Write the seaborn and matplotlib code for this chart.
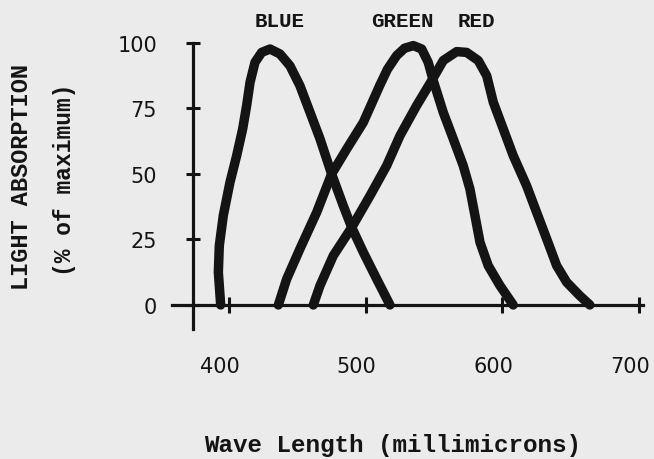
import numpy as np
import pandas as pd
import seaborn as sns
import matplotlib.pyplot as plt
from matplotlib.transforms import ScaledTranslation

# Absorption curves
# wavelength in millimicrons, absorption in % of maximum
blue_wl = [393.9, 392.2, 392.9, 395.8, 400.7, 405.6, 410.0, 412.9, 415.4, 419.0,
           423.9, 430.0, 437.3, 444.6, 451.9, 459.3, 466.6, 475.1, 483.6, 489.8,
           498.3, 508.1, 517.8]
blue_abs = [0, 12.5, 22.6, 34.1, 46.8, 57.0, 67.2, 76.1, 85.0, 92.6,
            96.4, 97.7, 95.8, 91.3, 83.7, 73.5, 63.4, 50.0, 37.9, 29.6,
            20.1, 9.9, 0]

green_wl = [436.1, 442.2, 451.9, 464.2, 475.1, 486.1, 498.3, 510.5, 516.0, 522.7,
            528.5, 534.9, 541.0, 545.8, 549.5, 556.8, 564.1, 571.4, 576.3, 580.0,
            583.7, 589.7, 598.3, 608.0]
green_abs = [0, 9.9, 21.4, 35.4, 50.0, 59.5, 69.7, 84.0, 90.0, 95.2,
             98.0, 99.0, 97.7, 92.6, 85.6, 73.5, 63.4, 53.2, 44.3, 34.1,
             23.9, 15.0, 7.4, 0]

red_wl = [461.7, 466.6, 476.3, 489.8, 503.2, 515.4, 525.1, 537.3, 548.3, 556.8,
          566.6, 573.9, 582.4, 588.6, 593.4, 600.7, 608.0, 617.8, 625.1, 632.5,
          639.8, 647.1, 656.8, 664.1]
red_abs = [0, 7.4, 18.8, 29.6, 41.7, 53.2, 64.6, 76.1, 85.6, 93.3,
           96.7, 96.4, 93.3, 87.5, 77.4, 67.2, 57.0, 45.5, 35.4, 25.2,
           15.0, 8.7, 3.5, 0]

curve_names = ["BLUE", "GREEN", "RED"]
curve_label_x = [437, 527, 581]
x_ticks = [400, 500, 600, 700]
y_ticks = [0, 25, 50, 75, 100]

df = pd.concat([
    pd.DataFrame({"wl": blue_wl, "absorption": blue_abs, "cone": "BLUE"}),
    pd.DataFrame({"wl": green_wl, "absorption": green_abs, "cone": "GREEN"}),
    pd.DataFrame({"wl": red_wl, "absorption": red_abs, "cone": "RED"}),
])

paper = "#ebebeb"
ink = "#141414"
mono = ["Liberation Mono", "DejaVu Sans Mono"]

sns.set_theme(style="white")
plt.rcParams["font.family"] = ["DejaVu Sans"]

fig = plt.figure(figsize=(6.54, 4.6), dpi=100, facecolor=paper)
ax = fig.add_axes([0.2457, 0.2665, 0.7417, 0.6607])
ax.set_facecolor(paper)

sns.lineplot(data=df, x="wl", y="absorption", hue="cone",
             palette={n: ink for n in curve_names}, sort=False,
             estimator=None, legend=False, linewidth=6.8, ax=ax,
             solid_joinstyle="round", solid_capstyle="round")

ax.set_xlim(350, 705)
ax.set_ylim(-12, 104)

# hand drawn axes crossing each other
for side in ["top", "right"]:
    ax.spines[side].set_visible(False)
ax.spines["left"].set_position(("data", 373.7))
ax.spines["left"].set_bounds(-9, 100)
ax.spines["bottom"].set_position(("data", 0))
ax.spines["bottom"].set_bounds(358.3, 702.9)
for side in ["left", "bottom"]:
    ax.spines[side].set_linewidth(2.3)
    ax.spines[side].set_color(ink)

ax.set_xticks(x_ticks)
ax.set_yticks(y_ticks)
ax.tick_params(axis="y", left=True, direction="inout", length=10, width=2.2,
               pad=21, labelsize=15, colors=ink)
ax.tick_params(axis="x", bottom=True, direction="inout", length=12, width=2.2,
               pad=31, labelsize=15, colors=ink)
ax.set_xlabel("")
ax.set_ylabel("")

shift = ScaledTranslation(-9 / 100, 0, fig.dpi_scale_trans)
for lbl in ax.get_xticklabels():
    lbl.set_transform(lbl.get_transform() + shift)

for name, x in zip(curve_names, curve_label_x):
    ax.text(x, 108.4, name, ha="center", va="center", fontsize=15,
            fontweight="bold", family=mono, color=ink, clip_on=False)

fig.text(22 / 654, 1 - 177 / 460, "LIGHT ABSORPTION", rotation=90,
         ha="center", va="center", fontsize=17, fontweight="bold",
         family=mono, color=ink)
fig.text(65 / 654, 1 - 180 / 460, "(% of maximum)", rotation=90,
         ha="center", va="center", fontsize=16.5, fontweight="bold",
         family=mono, color=ink)
fig.text(393 / 654, 1 - 452 / 460, "Wave Length (millimicrons)",
         ha="center", va="baseline", fontsize=17.5, fontweight="bold",
         family=mono, color=ink)

fig.savefig("out.png", dpi=100, facecolor=paper)
